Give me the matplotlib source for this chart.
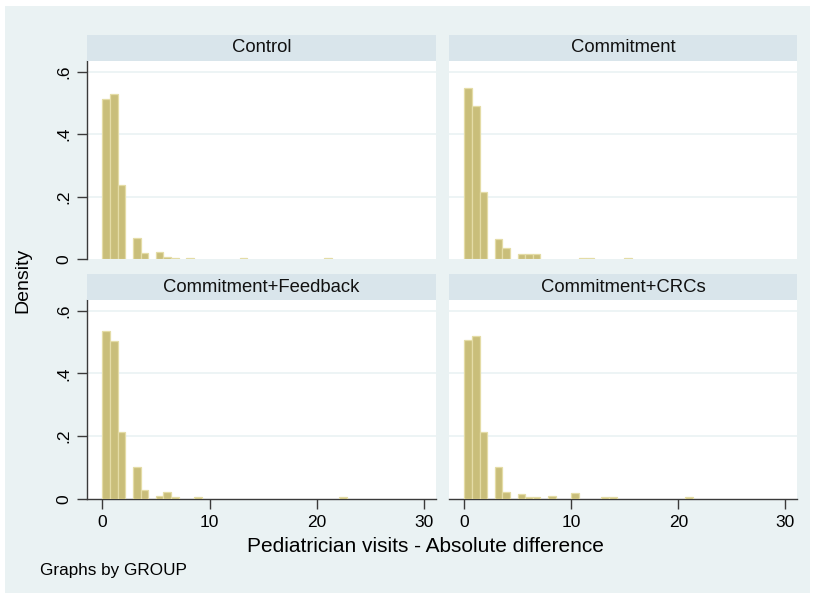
import matplotlib
matplotlib.use("Agg")
import matplotlib.pyplot as plt
from matplotlib.patches import Rectangle

plt.rcParams['font.family'] = ['Liberation Sans', 'DejaVu Sans']

# ---- data ----
groups = ["Control", "Commitment", "Commitment+Feedback", "Commitment+CRCs"]
bin_width = 0.712
# bin indices (left edge = index * bin_width) and densities per group
control_bins = [0, 1, 2, 4, 5, 7, 8, 9, 11, 18, 29]
control_dens = [0.512, 0.530, 0.237, 0.067, 0.021, 0.024, 0.007, 0.004, 0.004, 0.004, 0.004]
commit_bins = [0, 1, 2, 4, 5, 7, 8, 9, 15, 16, 21]
commit_dens = [0.549, 0.490, 0.214, 0.064, 0.035, 0.017, 0.017, 0.017, 0.005, 0.005, 0.005]
feedback_bins = [0, 1, 2, 4, 5, 7, 8, 9, 12, 31]
feedback_dens = [0.535, 0.502, 0.213, 0.102, 0.028, 0.009, 0.020, 0.006, 0.005, 0.005]
crcs_bins = [0, 1, 2, 4, 5, 7, 8, 9, 11, 14, 18, 19, 29]
crcs_dens = [0.507, 0.520, 0.213, 0.102, 0.022, 0.014, 0.007, 0.007, 0.010, 0.019, 0.007, 0.007, 0.006]
series = [(control_bins, control_dens), (commit_bins, commit_dens),
          (feedback_bins, feedback_dens), (crcs_bins, crcs_dens)]
y_ticks = [0, 0.2, 0.4, 0.6]
y_ticklabels = ["0", ".2", ".4", ".6"]
x_ticks = [0, 10, 20, 30]
x_ticklabels = ["0", "10", "20", "30"]
x_title = "Pediatrician visits - Absolute difference"
y_title = "Density"
note = "Graphs by GROUP"

# ---- style ----
W, H = 815, 599
BG = "#EAF2F3"
STRIP = "#D9E5EB"
FILL = "#C9BE7A"
EDGE = "#E4DCA6"
AXC = "#3a3a3a"

fig = plt.figure(figsize=(W / 100, H / 100), dpi=100)
fig.patch.set_facecolor("white")
fig.add_artist(Rectangle((5 / W, 1 - 593 / H), 805 / W, 587 / H, transform=fig.transFigure,
                         facecolor=BG, edgecolor="none", zorder=-10))

def fx(px):
    return px / W

def fy(py):
    return 1 - py / H

panels = [
    (87, 436, 61, 259.3, True, False),
    (449, 797, 61, 259.3, False, False),
    (87, 436, 300, 498.7, True, True),
    (449, 797, 300, 498.7, False, True),
]
strip_h = 26
xlim = (-1.43, 31.1)
ylim = (0, 0.634)

for (x0, x1, y0, y1, left, bottom), name, (bins, dens) in zip(panels, groups, series):
    ax = fig.add_axes([fx(x0), fy(y1), (x1 - x0) / W, (y1 - y0) / H])
    ax.set_facecolor("white")
    lefts = [b * bin_width for b in bins]
    ax.bar(lefts, dens, width=bin_width, align="edge", color=FILL,
           edgecolor=EDGE, linewidth=0.9, zorder=3)
    ax.set_xlim(*xlim)
    ax.set_ylim(*ylim)
    for yv in y_ticks[1:]:
        ax.axhline(yv, color=BG, lw=1.2, zorder=1)
    for s in ax.spines.values():
        s.set_visible(False)
    ax.set_yticks(y_ticks)
    ax.set_xticks(x_ticks)
    if left:
        ax.spines["left"].set_visible(True)
        ax.spines["left"].set_color(AXC)
        ax.spines["left"].set_linewidth(1.0)
        ax.set_yticklabels(y_ticklabels, rotation=90, va="center", fontsize=12.5)
        ax.tick_params(axis="y", length=7, width=1, color=AXC, pad=4)
    else:
        ax.tick_params(axis="y", left=False, labelleft=False)
    if bottom:
        ax.spines["bottom"].set_visible(True)
        ax.spines["bottom"].set_color(AXC)
        ax.spines["bottom"].set_linewidth(1.0)
        ax.set_xticklabels(x_ticklabels, fontsize=12.5)
        ax.tick_params(axis="x", length=7, width=1, color=AXC, pad=5)
    else:
        ax.tick_params(axis="x", bottom=False, labelbottom=False)
    # strip
    sax = fig.add_axes([fx(x0), fy(y0), (x1 - x0) / W, strip_h / H])
    sax.set_facecolor(STRIP)
    sax.set_xticks([])
    sax.set_yticks([])
    for s in sax.spines.values():
        s.set_visible(False)
    sax.text(0.5, 0.5, name, ha="center", va="center", fontsize=13.3, color="#111111",
             transform=sax.transAxes)

fig.text(fx(23), fy(280), y_title, rotation=90, ha="center", va="center", fontsize=14)
fig.text(fx(425), fy(547), x_title, ha="center", va="center", fontsize=15)
fig.text(fx(40), fy(571), note, ha="left", va="center", fontsize=12.3)

fig.savefig("out.png", dpi=100, facecolor=fig.get_facecolor())
